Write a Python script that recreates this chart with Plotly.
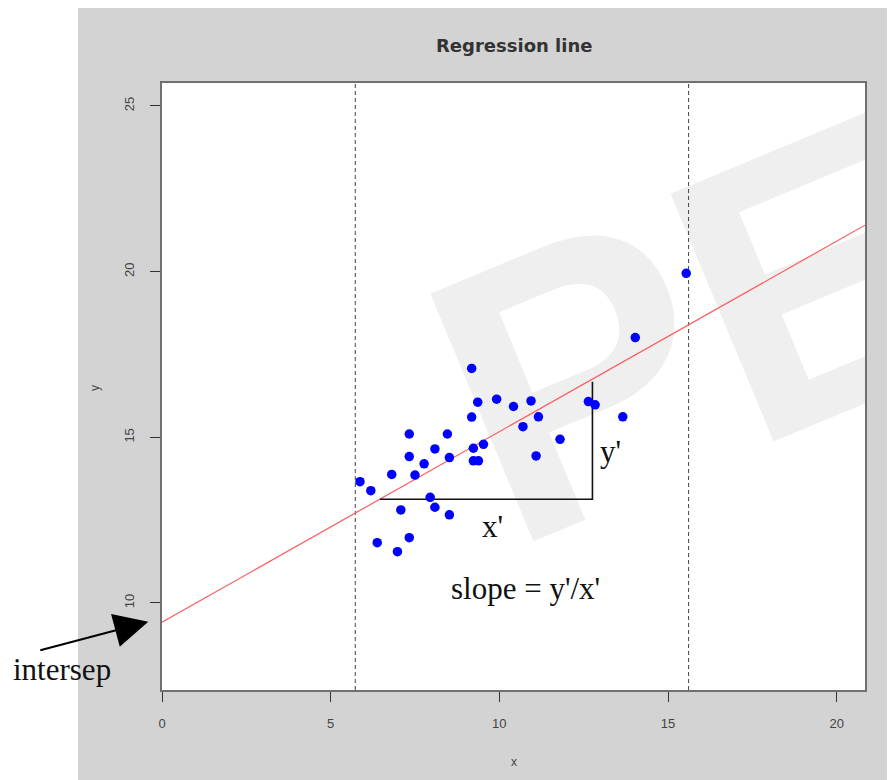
import base64
import plotly.graph_objects as go

# ---- data ----
x_vals = [9.18, 9.36, 9.92, 10.42, 10.94, 9.18, 11.16, 10.70, 12.64, 12.84, 11.80, 11.09,
          7.33, 8.46, 8.09, 7.33, 8.52, 7.77, 9.23, 9.53, 9.23, 9.38, 6.81, 7.50,
          5.87, 6.19, 7.95, 8.09, 7.08, 8.52, 6.38, 7.33, 6.98, 15.54, 14.03, 13.66]
y_vals = [17.08, 16.06, 16.15, 15.93, 16.10, 15.61, 15.62, 15.32, 16.08, 15.98, 14.94, 14.44,
          15.10, 15.10, 14.65, 14.42, 14.39, 14.20, 14.67, 14.79, 14.29, 14.29, 13.88, 13.86,
          13.66, 13.39, 13.19, 12.89, 12.81, 12.66, 11.82, 11.97, 11.55, 19.95, 18.01, 15.62]

intercept = 9.42
slope = 0.575
x_range = [0, 20.84]
y_range = [7.374, 25.694]

vlines_x = [5.73, 15.61]
tri_x = [6.46, 12.76, 12.76]
tri_y = [13.13, 13.13, 16.68]

x_ticks = [0, 5, 10, 15, 20]
y_ticks = [10, 15, 20, 25]

line_x = x_range
line_y = [intercept + slope * v for v in line_x]

fig = go.Figure()

# dashed vertical reference lines
for vx in vlines_x:
    fig.add_trace(go.Scatter(x=[vx, vx], y=y_range, mode="lines",
                             line=dict(color="#444444", width=1, dash="4px,3px"),
                             hoverinfo="skip", showlegend=False))

# regression line
fig.add_trace(go.Scatter(x=line_x, y=line_y, mode="lines",
                         line=dict(color="#ff5c5c", width=1.2),
                         showlegend=False))

# slope triangle
fig.add_trace(go.Scatter(x=tri_x, y=tri_y, mode="lines",
                         line=dict(color="#111111", width=1.6),
                         showlegend=False))

# points
fig.add_trace(go.Scatter(x=x_vals, y=y_vals, mode="markers",
                         marker=dict(color="#0000ff", size=9.5, line=dict(width=0)),
                         showlegend=False))

# watermark as an SVG image filling the plot area
W, H = 703, 607
svg = (f'<svg xmlns="http://www.w3.org/2000/svg" width="{W}" height="{H}" viewBox="0 0 {W} {H}">'
       f'<text x="0" y="0" transform="translate(347.4,468.4) rotate(-22.6)" '
       f'font-family="Liberation Sans, Arial, sans-serif" font-weight="bold" font-size="390" '
       f'fill="#efefef">PE</text></svg>')
uri = "data:image/svg+xml;base64," + base64.b64encode(svg.encode()).decode()
fig.add_layout_image(dict(source=uri, xref="x", yref="y", x=x_range[0], y=y_range[1],
                          sizex=x_range[1] - x_range[0], sizey=y_range[1] - y_range[0],
                          sizing="stretch", xanchor="left", yanchor="top", layer="below"))

serif = "Liberation Serif, Times New Roman, serif"
tickfont = dict(family="Liberation Sans Narrow, Liberation Sans, sans-serif", size=13, color="#444")
ann = [
    dict(text="<b>Regression line</b>", xref="paper", yref="paper", x=0.5, y=1.061,
         showarrow=False, font=dict(family="DejaVu Sans", size=18, color="#333"),
         xanchor="center", yanchor="middle"),
    dict(text="x", xref="paper", yref="paper", x=0.5, y=-0.1186, showarrow=False,
         font=dict(family="Liberation Sans", size=12, color="#444"), yanchor="middle"),
    dict(text="y", xref="paper", yref="paper", x=-0.0953, y=0.4975, showarrow=False,
         textangle=-90, font=dict(family="Liberation Sans", size=12, color="#444"),
         xanchor="center", yanchor="middle"),
    dict(text="y'", x=13.31, y=14.56, showarrow=False,
         font=dict(family=serif, size=31, color="#111")),
    dict(text="x'", x=9.80, y=12.32, showarrow=False,
         font=dict(family=serif, size=31, color="#111")),
    dict(text="slope = y'/x'", x=10.79, y=10.45, showarrow=False,
         font=dict(family=serif, size=31, color="#111")),
    dict(text="intersep", xref="paper", yref="paper", x=-0.1422, y=0.033, showarrow=False,
         font=dict(family=serif, size=31, color="#111"), xanchor="center", yanchor="middle"),
    dict(text=" ", xref="paper", yref="paper", x=-0.0195, y=0.1125, ax=-110, ay=29,
         showarrow=True, arrowhead=2, arrowsize=3.4, arrowwidth=2, arrowcolor="#000",
         font=dict(size=2)),
]

# the page places the figure at an 8px body margin; size/margins account for it
fig.update_layout(
    width=887, height=772,
    margin=dict(l=154, r=30, t=75, b=90, pad=0),
    paper_bgcolor="#d3d3d3",
    plot_bgcolor="#ffffff",
    annotations=ann,
    shapes=[
        dict(type="rect", xref="paper", yref="paper", x0=-0.2191, x1=-0.1195, y0=-0.2, y1=1.2,
             fillcolor="#ffffff", line=dict(width=0), layer="below"),
    ],
    xaxis=dict(range=x_range, showgrid=False, zeroline=False, showline=True, mirror=True,
               linecolor="#707070", linewidth=1.6, ticks="outside", ticklen=10, tickwidth=1.2,
               tickcolor="#333", tickvals=x_ticks, ticktext=[str(t) for t in x_ticks],
               tickfont=tickfont, ticklabelstandoff=11),
    yaxis=dict(range=y_range, showgrid=False, zeroline=False, showline=True, mirror=True,
               linecolor="#707070", linewidth=1.6, ticks="outside", ticklen=10, tickwidth=1.2,
               tickcolor="#333", tickvals=y_ticks, ticktext=[str(t) for t in y_ticks],
               tickangle=-90, tickfont=tickfont, ticklabelstandoff=11),
)

fig.write_html("out.html")
